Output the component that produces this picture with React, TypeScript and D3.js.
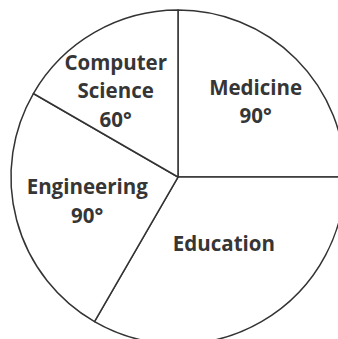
import React, { useEffect, useRef } from 'react';
import * as d3 from 'd3';

const subjects = ['Medicine', 'Education', 'Engineering', 'Computer Science'];
const degrees = [90, 120, 90, 60];
const labelLines = [['Medicine', '90°'], ['Education'], ['Engineering', '90°'], ['Computer', 'Science', '60°']];

export default function App() {
  const ref = useRef<SVGSVGElement>(null);

  useEffect(() => {
    const width = 338, height = 339;
    const cx = 178, cy = 177, r = 167;

    const svg = d3.select(ref.current);
    svg.selectAll('*').remove();

    const g = svg.append('g').attr('transform', 'translate(' + cx + ',' + cy + ')');

    const pie = d3.pie<number>().sort(null).value(d => d);
    const arcs = pie(degrees);

    const arc = d3.arc<d3.PieArcDatum<number>>().innerRadius(0).outerRadius(r);

    g.selectAll('path')
      .data(arcs)
      .enter()
      .append('path')
      .attr('d', arc)
      .attr('fill', 'white')
      .attr('stroke', '#333')
      .attr('stroke-width', 1.5)
      .attr('stroke-linejoin', 'round');

    // where the label block sits: radius and small angle nudge (degrees) per slice
    const labelR = [108, 81, 94, 106];
    const nudge = [1, -4.5, 0, -6];

    const lineH = 28.5;
    arcs.forEach((d, i) => {
      const a = (d.startAngle + d.endAngle) / 2 + (nudge[i] * Math.PI) / 180;
      const x = Math.sin(a) * labelR[i];
      const y = -Math.cos(a) * labelR[i];
      const lines = labelLines[i];
      const text = g.append('text')
        .attr('text-anchor', 'middle')
        .attr('font-family', '"Open Sans", sans-serif')
        .attr('font-weight', 'bold')
        .attr('font-size', 20.5)
        .attr('fill', '#363636')
        .attr('aria-label', subjects[i]);
      lines.forEach((ln, j) => {
        text.append('tspan')
          .attr('x', x)
          .attr('y', y + (j - (lines.length - 1) / 2) * lineH + 7)
          .text(ln);
      });
    });

    svg.attr('width', width).attr('height', height);
  }, []);

  return (
    <svg ref={ref} width={338} height={339}
      style={{ position: 'absolute', left: 0, top: 0, background: 'white' }} />
  );
}
